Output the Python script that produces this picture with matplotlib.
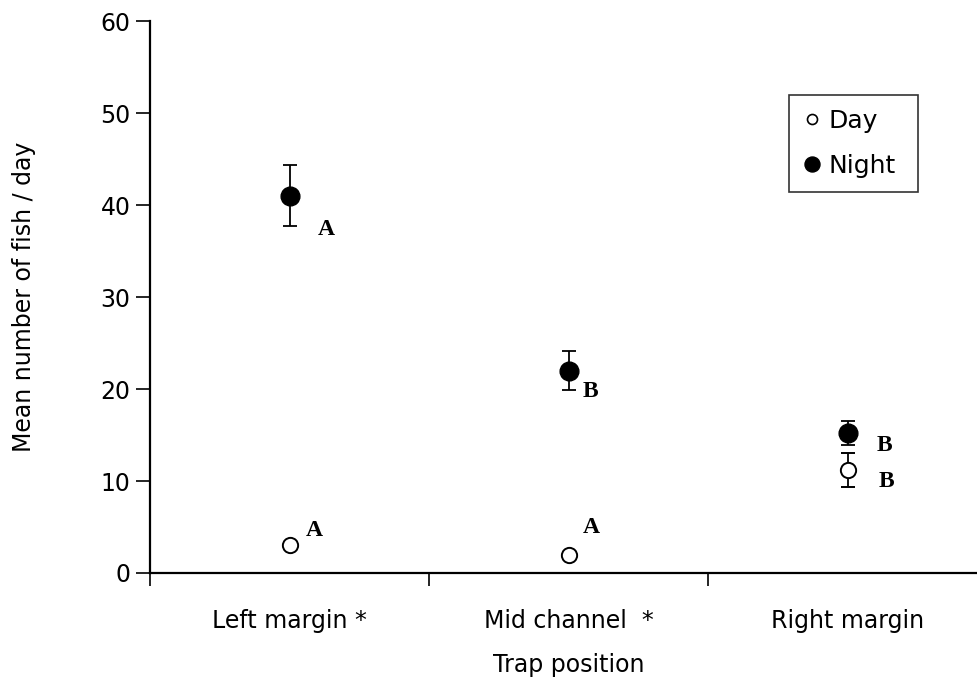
import matplotlib
matplotlib.use("Agg")
import matplotlib.pyplot as plt
from matplotlib.lines import Line2D

# Data
positions = ["Left margin *", "Mid channel  *", "Right margin"]
day_mean = [3.0, 2.0, 11.2]
day_err = [0.0, 0.0, 1.85]
night_mean = [41.0, 22.0, 15.2]
night_err = [3.3, 2.1, 1.3]
day_letters = ["A", "A", "B"]
night_letters = ["A", "B", "B"]

plt.rcParams["font.family"] = ["DejaVu Sans"]

fig = plt.figure(figsize=(9.77, 6.94), dpi=100)
ax = fig.add_axes([150 / 977, 1 - 573 / 694, 837 / 977, 552 / 694])

xc = [i + 0.5 for i in range(len(positions))]

# Day: open circles
ax.errorbar(xc, day_mean, yerr=day_err, fmt="o", ms=11, mfc="white",
            mec="black", mew=1.4, ecolor="black", elinewidth=1.3,
            capsize=5, capthick=1.3, zorder=3)
# Night: filled circles
ax.errorbar(xc, night_mean, yerr=night_err, fmt="o", ms=13.5, mfc="black",
            mec="black", ecolor="black", elinewidth=1.3,
            capsize=5, capthick=1.3, zorder=4)

# Significance letters
letter_font = dict(family="Liberation Serif", weight="bold", fontsize=17)
day_offsets = [(0.088, 1.6), (0.082, 2.96), (0.14, -1.28)]
night_offsets = [(0.133, -3.7), (0.077, -2.3), (0.133, -1.3)]
for x, m, lab, (dx, dy) in zip(xc, day_mean, day_letters, day_offsets):
    ax.text(x + dx, m + dy, lab, ha="center", va="center", **letter_font)
for x, m, lab, (dx, dy) in zip(xc, night_mean, night_letters, night_offsets):
    ax.text(x + dx, m + dy, lab, ha="center", va="center", **letter_font)

# Axes styling
ax.set_xlim(0, 3)
ax.set_ylim(0, 60)
ax.set_yticks(range(0, 61, 10))
ax.set_xticks([0, 1, 2, 3])
ax.set_xticklabels([])
ax.set_xticks(xc, minor=True)
ax.set_xticklabels(positions, minor=True)
ax.tick_params(axis="x", which="minor", length=0, pad=26, labelsize=17)
ax.tick_params(axis="x", which="major", length=9, width=1.2, direction="out")
ax.tick_params(axis="y", length=10, width=1.2, direction="out", pad=4,
               labelsize=17)
for side in ("top", "right"):
    ax.spines[side].set_visible(False)
for side in ("left", "bottom"):
    ax.spines[side].set_linewidth(1.6)

ax.set_xlabel("Trap position", fontsize=17, labelpad=14)
ax.set_ylabel("Mean number of fish / day", fontsize=17, labelpad=46)

# Legend
handles = [
    Line2D([], [], ls="none", marker="o", ms=7.2, mfc="white", mec="black", mew=1.2),
    Line2D([], [], ls="none", marker="o", ms=10.8, mfc="black", mec="black"),
]
leg = ax.legend(handles, ["Day", "Night"], loc="upper left",
                bbox_to_anchor=(0.763, 0.690, 0.154, 0.176), mode="expand",
                borderaxespad=0,
                fontsize=18, frameon=True, fancybox=False, edgecolor="black",
                handlelength=0.75, handletextpad=0.3, labelspacing=0.85,
                borderpad=0.55)
leg.get_frame().set_linewidth(1.2)

fig.savefig("out.png", dpi=100)
